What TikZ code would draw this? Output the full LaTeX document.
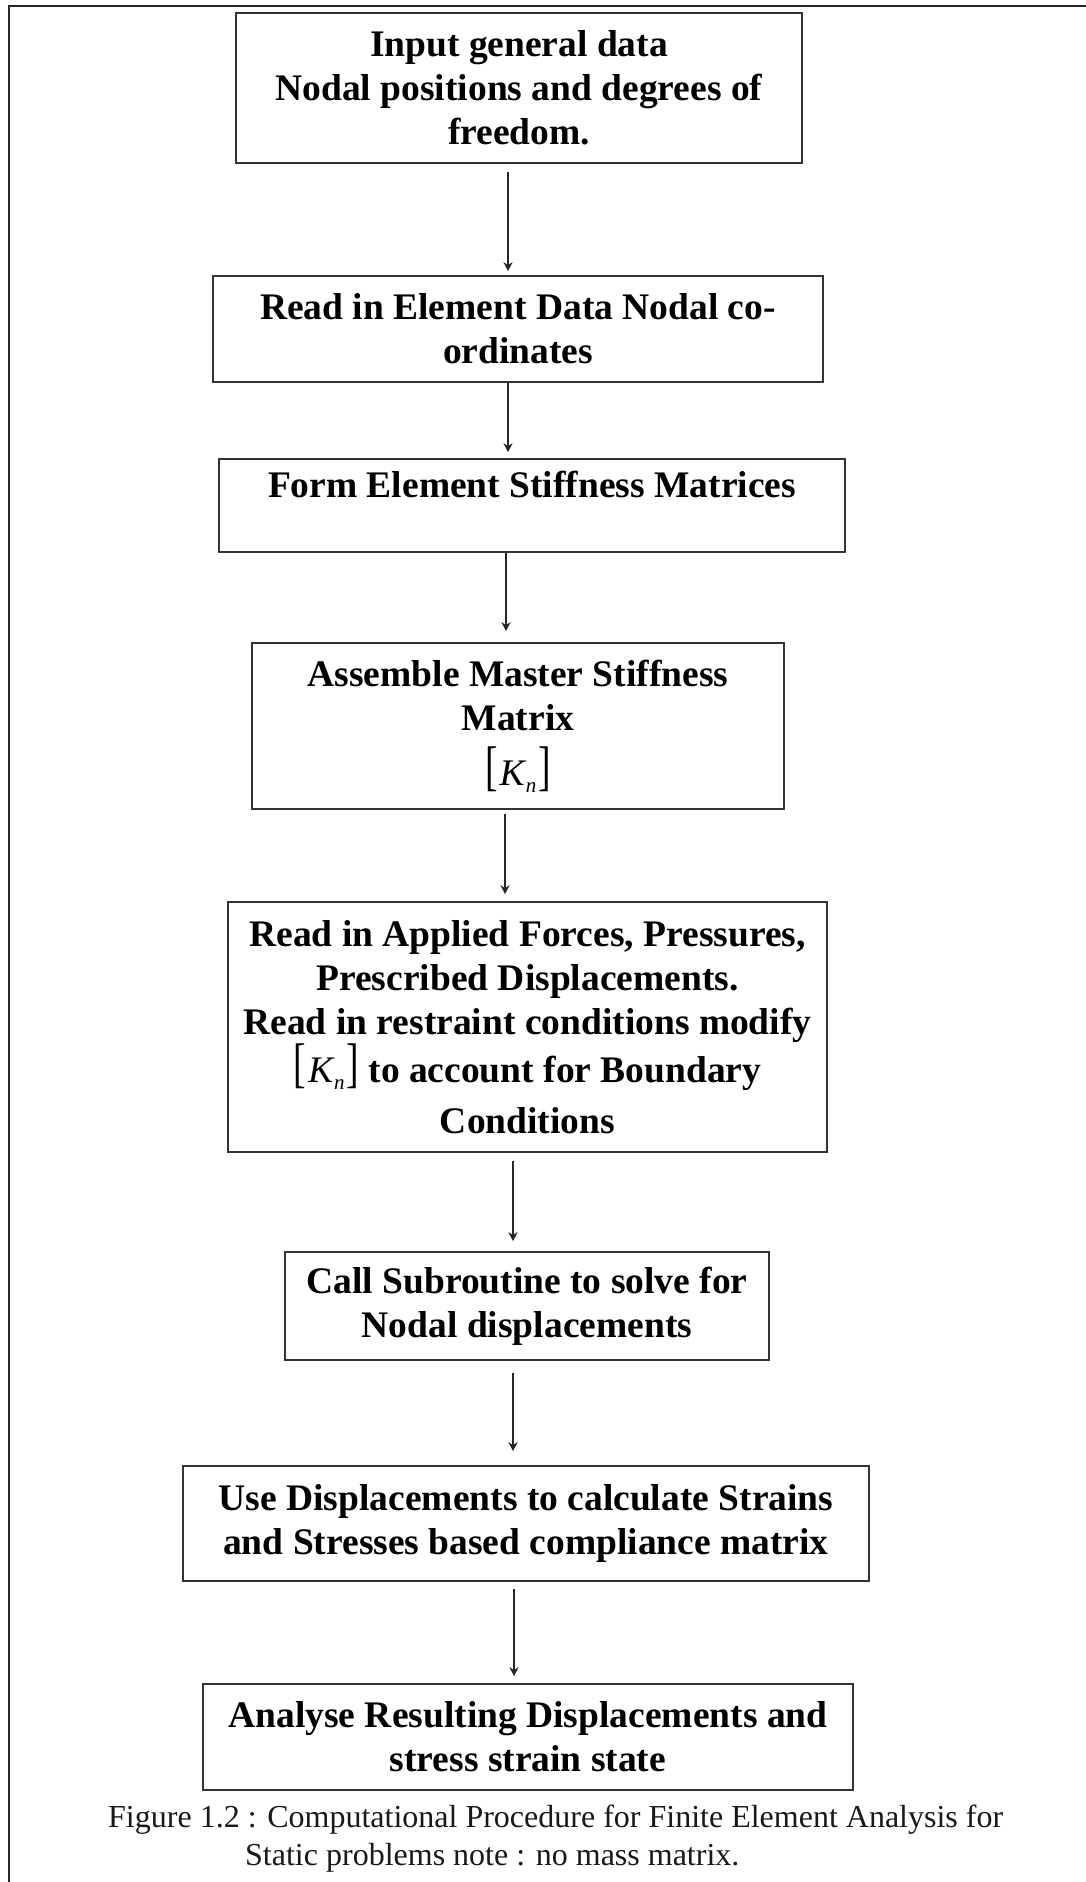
\documentclass[tikz,border=0pt]{standalone}
\usepackage{fontspec}
\usepackage{graphicx}
\setmainfont{Liberation Serif}
\usetikzlibrary{arrows.meta}
\newcommand{\bigbrk}[1]{\raisebox{1pt}{\scalebox{1}[1.45]{\mdseries #1}}}
\newcommand{\Kn}{{\bigbrk{[}\kern2pt{\mdseries\itshape K\kern1pt\raisebox{-7pt}{\fontsize{21}{24}\selectfont n}}\kern2pt\bigbrk{]}}}
\tikzset{
  box/.style={draw=black!80, line width=1.6pt, rectangle, inner sep=0pt, align=center,
    font=\bfseries\fontsize{37.5}{44}\selectfont, text=black},
  arr/.style={draw=black!85, line width=1.6pt, -{Stealth[length=9pt,width=9pt]}},
  frameline/.style={draw=black!85, line width=2pt},
  capt/.style={inner sep=0pt, align=left, font=\fontsize{32}{38}\selectfont, text=black!90}
}
\begin{document}
\begin{tikzpicture}[x=1pt,y=-1pt]
\useasboundingbox (0,0) rectangle (1086,1882);
\fill[white] (0,0) rectangle (1086,1882);
% frame (top and left only)
\coordinate (fTL) at (9,6);
\coordinate (fTR) at (1086,6);
\coordinate (fBL) at (9,1882);
\draw[frameline] (fTR) -- (fTL) -- (fBL);

\node[box, line width=2.4pt, minimum width=566pt, minimum height=150pt] (b1) at (519,88)
  {Input general data\\Nodal positions and degrees of\\freedom.};
\node[box, minimum width=610pt, minimum height=106pt] (b2) at (518,329)
  {Read in Element Data Nodal co-\\ordinates};
\node[box, minimum width=626pt, minimum height=93pt] (b3) at (532,505.5)
  {Form Element Stiffness Matrices\\[-14pt]\strut};
\node[box, minimum width=532pt, minimum height=166pt] (b4) at (518,726)
  {Assemble Master Stiffness\\Matrix\\[11pt]\Kn};
\node[box, minimum width=599pt, minimum height=250pt] (b5) at (527.5,1027)
  {Read in Applied Forces, Pressures,\\Prescribed Displacements.\\Read in restraint conditions modify\\\Kn{} to account for Boundary\\[7pt]Conditions};
\node[box, minimum width=484pt, minimum height=108pt] (b6) at (527,1306)
  {Call Subroutine to solve for\\Nodal displacements};
\node[box, minimum width=686pt, minimum height=115pt] (b7) at (526,1523.5)
  {Use Displacements to calculate Strains\\and Stresses based compliance matrix};
\node[box, minimum width=650pt, minimum height=106pt] (b8) at (528,1737)
  {Analyse Resulting Displacements and\\stress strain state};

\draw[arr] ([xshift=-11pt,yshift=-8pt]b1.south) -- ([xshift=-10pt,yshift=4pt]b2.north);
\draw[arr] ([xshift=-10pt]b2.south) -- ([xshift=-24pt,yshift=6pt]b3.north);
\draw[arr] ([xshift=-26pt]b3.south) -- ([xshift=-12pt,yshift=11pt]b4.north);
\draw[arr] ([xshift=-13pt,yshift=-4pt]b4.south) -- ([xshift=-22.5pt,yshift=7pt]b5.north);
\draw[arr] ([xshift=-14.5pt,yshift=-8pt]b5.south) -- ([xshift=-14pt,yshift=10pt]b6.north);
\draw[arr] ([xshift=-14pt,yshift=-12pt]b6.south) -- ([xshift=-13pt,yshift=14pt]b7.north);
\draw[arr] ([xshift=-12pt,yshift=-7pt]b7.south) -- ([xshift=-14pt,yshift=7pt]b8.north);

\node[capt, anchor=base west] (cap) at (108,1865)
  {Figure 1.2 : Computational Procedure for Finite Element Analysis for\\\hspace*{137pt}Static problems note : no mass matrix.};
\end{tikzpicture}
\end{document}
